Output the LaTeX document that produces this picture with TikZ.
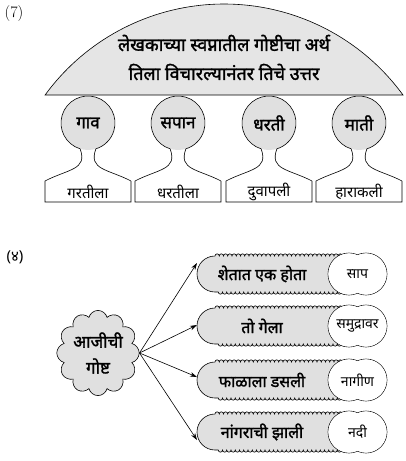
\documentclass[tikz,border=0pt]{standalone}
\usepackage{fontspec}
\newfontfamily\deva[Script=Devanagari]{Noto Sans}
\newfontfamily\devab[Script=Devanagari, FakeBold=1.6]{Noto Sans}
\usetikzlibrary{shapes.symbols,decorations.pathmorphing,arrows.meta,calc}
\begin{document}
\begin{tikzpicture}[x=1pt,y=1pt,
  outl/.style={line width=0.6pt},
  ttl/.style={font=\devab\fontsize{18}{29}\selectfont, align=center, inner sep=0},
  ball/.style={circle, fill=black!12, minimum size=54, inner sep=0, outer sep=0, font=\devab\fontsize{17}{20}\selectfont},
  plate/.style={rectangle, minimum width=86, minimum height=21, inner sep=0, outer sep=0, font=\deva\fontsize{15}{18}\selectfont},
  boxtxt/.style={font=\devab\fontsize{16}{18}\selectfont, inner sep=0},
  ovaltxt/.style={font=\deva\fontsize{14}{16}\selectfont, inner sep=0},
  arr/.style={line width=0.6pt, -{Stealth[length=7pt,width=4.5pt]}},
  ]
\useasboundingbox (0,0) rectangle (406,-461);
% ---------- (7) ----------
\node[font=\fontsize{16}{18}\selectfont] (l7) at (14,-14) {(7)};
\draw[outl, fill=black!10] (403,-95) arc[start angle=36.1, end angle=143.9, radius=221.5] -- cycle;
\node[ttl] (title) at (224,-57.5) {लेखकाच्या स्वप्नातील गोष्टीचा अर्थ\\तिला विचारल्यानंतर तिचे उत्तर};
\foreach \cx/\i/\ta/\tb in {88/1/गाव/गरतीला, 178/2/सपान/धरतीला, 269/3/धरती/दुवापली, 359/4/माती/हाराकली}{
  \node[ball] (c\i) at (\cx,-123) {\ta};
  \node[plate] (r\i) at (\cx,-191.5) {\tb};
  \draw[outl] (r\i.north east) -- (r\i.south east) -- (r\i.south west) -- (r\i.north west)
    .. controls (\cx-20,-169) and (\cx,-170) .. (c\i.253)
    arc[start angle=253, end angle=-73, radius=27]
    .. controls (\cx,-170) and (\cx+20,-169) .. (r\i.north east);
}
% ---------- (8) ----------
\node[font=\deva\fontsize{15}{17}\selectfont] (l8) at (15,-257) {(४)};
\node[cloud, cloud puffs=12, aspect=0.95, draw, outl, fill=black!12, minimum width=66, minimum height=74, inner sep=0, align=center, font=\devab\fontsize{17}{26}\selectfont] (g) at (98,-353) {आजीची\\गोष्ट};
\foreach \y/\i/\dy/\ta/\tb in {274/1/11/शेतात एक होता/साप, 326/2/1/तो गेला/समुद्रावर, 380/3/3/फाळाला डसली/नागीण, 432/4/-8/नांगराची झाली/नदी}{
  \node[minimum width=153, minimum height=36, inner sep=0, outer sep=0] (b\i) at (273.5,-\y) {};
  \filldraw[outl, fill=black!12, decoration={bumps, segment length=8.5pt, amplitude=2.2pt}]
    (215,-\y+18) decorate {-- (350,-\y+18)} -- (350,-\y-18) decorate {-- (215,-\y-18)}
    arc[start angle=270, end angle=90, radius=18] -- cycle;
  \node[boxtxt] (t\i) at (262,-\y) {\ta};
  \draw[outl, fill=white] (349,-\y) circle[radius=21] (366,-\y) circle[radius=21];
  \fill[white] (349,-\y) circle[radius=20.6] (366,-\y) circle[radius=20.6];
  \node[ovaltxt] (o\i) at (357.5,-\y) {\tb};
  \draw[arr] (g.east) -- ($(b\i.west)+(0,\dy)$);
}
\end{tikzpicture}
\end{document}
